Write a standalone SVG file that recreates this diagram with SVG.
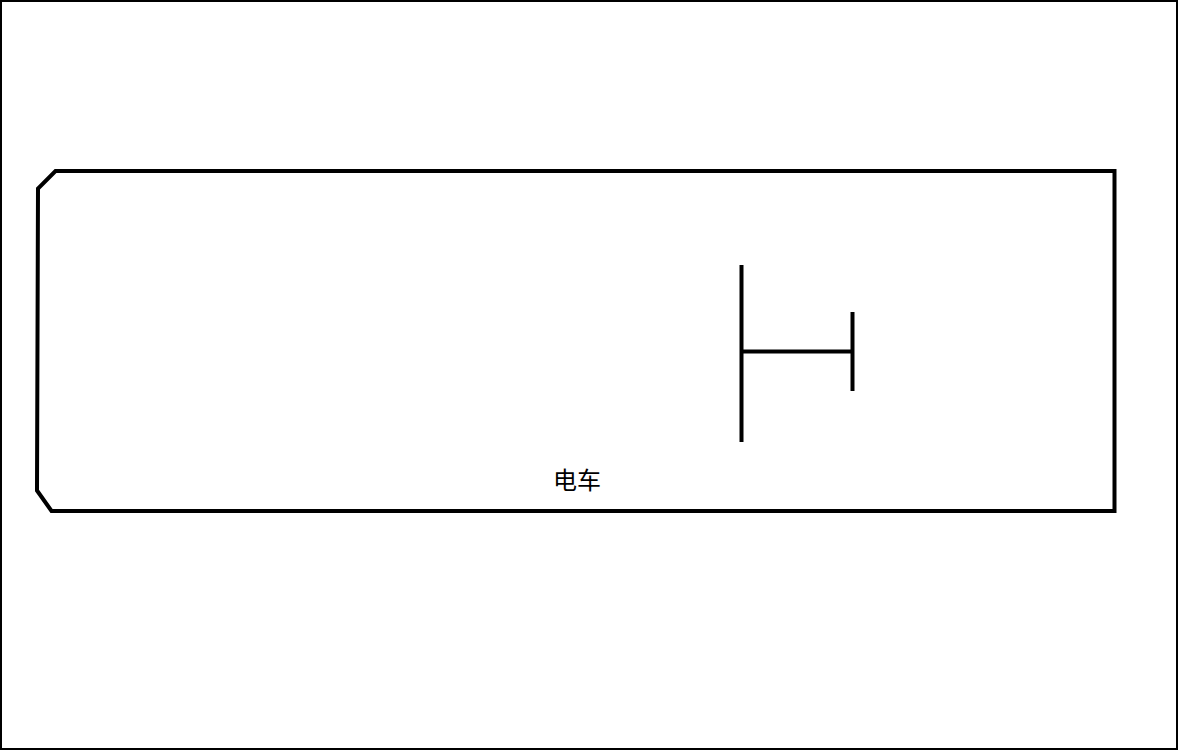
<svg xmlns="http://www.w3.org/2000/svg" width="1180" height="752" viewBox="0 0 1180 752">
<style>
.ln{fill:none;stroke:#000;stroke-width:4;stroke-linecap:butt;stroke-linejoin:miter}
.lbl{font-family:"Noto Sans CJK SC","Liberation Sans",sans-serif;font-size:24px;fill:#000;text-anchor:middle}
</style>
<rect x="0" y="0" width="1180" height="752" fill="#fff"/>
<rect x="1" y="1" width="1176" height="748" fill="none" stroke="#000" stroke-width="2"/>
<g id="tram">
<polygon class="ln" points="55.5,171 1114.5,171 1114.5,511 51.5,511 37,490.5 38,188.5"/>
<text class="lbl" x="577" y="488.5">电车</text>
</g>
<g id="pantograph">
<line class="ln" x1="741.5" y1="265" x2="741.5" y2="442"/>
<line class="ln" x1="741.5" y1="351.5" x2="852.5" y2="351.5"/>
<line class="ln" x1="852.5" y1="312" x2="852.5" y2="391"/>
</g>
</svg>
